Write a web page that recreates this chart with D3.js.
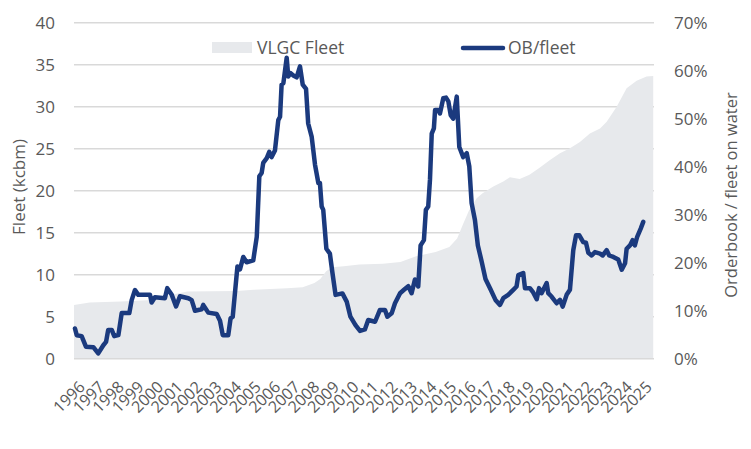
<!DOCTYPE html>
<html lang="en">
<head>
<meta charset="UTF-8">
<title>VLGC fleet and orderbook</title>
<script src="https://d3js.org/d3.v7.min.js"></script>
<style>
  body { margin: 0; background: #fff; }
  text { font-family: "Open Sans", "Noto Sans", sans-serif; fill: #595959; }
</style>
</head>
<body>
<script>
// VLGC fleet (kcbm, left axis), decimal years
const fleetTime = [1996.0, 1996.8, 1998.4, 2000.0, 2001.0, 2001.8, 2004.3, 2005.2, 2006.9, 2007.7,
  2008.3, 2008.6, 2008.9, 2009.2, 2009.8, 2010.6, 2011.8, 2012.7, 2013.5, 2014.5,
  2015.2, 2015.6, 2015.9, 2016.2, 2016.6, 2016.9, 2017.45, 2017.96, 2018.3, 2018.8,
  2019.3, 2019.8, 2020.35, 2020.86, 2021.37, 2021.88, 2022.39, 2022.91, 2023.25, 2023.76,
  2024.27, 2024.78, 2025.29, 2025.63];
const fleetValue = [6.4, 6.7, 6.8, 7.0, 7.6, 8.0, 8.05, 8.2, 8.4, 8.5,
  9.0, 9.5, 10.4, 10.9, 11.0, 11.2, 11.3, 11.5, 12.2, 12.7,
  13.3, 14.3, 16.0, 17.6, 19.1, 19.7, 20.5, 21.1, 21.6, 21.4,
  21.9, 22.7, 23.65, 24.45, 25.05, 25.8, 26.8, 27.4, 28.2, 30.0,
  32.2, 33.1, 33.6, 33.65];

// orderbook / fleet on water (%, right axis)
const obTime = [1996.05, 1996.14, 1996.39, 1996.61, 1996.99, 1997.24, 1997.50, 1997.64, 1997.75, 1997.93,
  1998.06, 1998.27, 1998.44, 1998.83, 1998.95, 1999.12, 1999.29, 1999.89, 1999.97, 2000.14,
  2000.65, 2000.77, 2001.00, 2001.22, 2001.42, 2001.85, 2002.02, 2002.19, 2002.53, 2002.61,
  2002.87, 2003.30, 2003.47, 2003.61, 2003.89, 2004.01, 2004.12, 2004.36, 2004.49, 2004.66,
  2004.83, 2005.17, 2005.35, 2005.48, 2005.60, 2005.68, 2005.86, 2005.99, 2006.11, 2006.28,
  2006.45, 2006.54, 2006.62, 2006.71, 2006.88, 2006.96, 2007.08, 2007.22, 2007.39, 2007.56,
  2007.70, 2007.87, 2007.98, 2008.16, 2008.33, 2008.50, 2008.58, 2008.67, 2008.75, 2008.91,
  2009.09, 2009.21, 2009.38, 2009.73, 2009.95, 2010.14, 2010.40, 2010.63, 2010.88, 2011.05,
  2011.40, 2011.65, 2011.91, 2012.03, 2012.25, 2012.42, 2012.68, 2012.88, 2013.10, 2013.27,
  2013.44, 2013.61, 2013.73, 2013.90, 2014.00, 2014.12, 2014.21, 2014.30, 2014.41, 2014.47,
  2014.63, 2014.72, 2014.89, 2015.03, 2015.15, 2015.27, 2015.40, 2015.58, 2015.71, 2015.91,
  2016.09, 2016.22, 2016.34, 2016.51, 2016.66, 2016.85, 2017.05, 2017.30, 2017.56, 2017.79,
  2017.96, 2018.21, 2018.47, 2018.64, 2018.73, 2018.98, 2019.07, 2019.32, 2019.49, 2019.67,
  2019.79, 2019.92, 2020.18, 2020.26, 2020.43, 2020.69, 2020.86, 2021.00, 2021.20, 2021.37,
  2021.54, 2021.68, 2021.85, 2022.05, 2022.19, 2022.31, 2022.48, 2022.65, 2022.91, 2023.04,
  2023.25, 2023.38, 2023.59, 2023.84, 2024.02, 2024.19, 2024.27, 2024.44, 2024.58, 2024.69,
  2024.81, 2024.99, 2025.12];
const obPct = [6.3, 4.9, 4.7, 2.5, 2.4, 1.1, 2.8, 3.5, 6.0, 6.0,
  4.7, 4.9, 9.5, 9.5, 12.2, 14.3, 13.3, 13.3, 11.7, 12.8,
  12.6, 14.7, 13.3, 10.9, 13.0, 12.6, 12.2, 10.0, 10.3, 11.2,
  9.6, 9.3, 7.9, 4.9, 4.9, 8.4, 8.75, 19.2, 18.6, 21.2,
  20.1, 20.5, 25.4, 38.0, 38.7, 40.8, 41.8, 43.1, 42.0, 43.4,
  49.7, 50.4, 57.1, 57.4, 62.7, 58.8, 59.5, 59.0, 58.6, 60.9,
  57.1, 56.2, 49.0, 46.2, 40.4, 36.6, 36.6, 31.7, 31.0, 22.9,
  21.9, 18.2, 13.3, 13.6, 11.9, 8.75, 7.0, 5.8, 6.1, 8.05,
  7.7, 10.15, 10.15, 8.75, 9.45, 11.55, 13.65, 14.35, 15.1, 13.65,
  16.5, 15.05, 23.6, 24.7, 31.0, 31.7, 37.3, 46.9, 48.0, 51.8,
  51.8, 51.1, 54.25, 54.4, 53.6, 50.75, 50.0, 54.6, 44.1, 42.0,
  42.8, 40.1, 32.4, 28.9, 23.6, 20.3, 16.6, 14.5, 12.25, 11.2,
  12.6, 13.3, 14.35, 15.05, 17.4, 17.85, 14.7, 14.7, 13.8, 12.4,
  14.7, 13.65, 15.75, 13.65, 12.95, 11.55, 12.25, 10.85, 13.3, 14.35,
  22.6, 25.7, 25.7, 24.3, 24.15, 22.05, 21.5, 22.2, 21.9, 21.5,
  22.6, 21.5, 21.2, 20.65, 18.55, 19.9, 22.9, 23.6, 24.7, 23.6,
  25.4, 27.1, 28.5];

const yearLabels = d3.range(1996, 2026);
const leftTicks = d3.range(0, 45, 5);
const rightTicks = d3.range(0, 0.75, 0.1);

const width = 751, height = 449;
const plot = { left: 74, right: 654, top: 22.7, bottom: 358.7 };

const svg = d3.select("body").append("svg")
  .attr("width", width)
  .attr("height", height);

const x = d3.scaleLinear().domain([1996, 2025.67]).range([plot.left, plot.right]);
const yL = d3.scaleLinear().domain([0, 40]).range([plot.bottom, plot.top]);
const yR = d3.scaleLinear().domain([0, 0.7]).range([plot.bottom, plot.top]);

// gridlines
svg.append("g")
  .selectAll("line")
  .data(leftTicks.filter(d => d > 0))
  .join("line")
  .attr("x1", plot.left).attr("x2", plot.right)
  .attr("y1", d => yL(d)).attr("y2", d => yL(d))
  .attr("stroke", "#d9d9d9")
  .attr("stroke-width", 1.5);

// fleet area
const fleet = fleetTime.map((t, i) => ({ t, v: fleetValue[i] }));
svg.append("path")
  .datum(fleet)
  .attr("fill", "#e7e9ec")
  .attr("d", d3.area().x(d => x(d.t)).y0(yL(0)).y1(d => yL(d.v)));

// baseline
svg.append("line")
  .attr("x1", plot.left).attr("x2", plot.right)
  .attr("y1", yL(0)).attr("y2", yL(0))
  .attr("stroke", "#d9d9d9")
  .attr("stroke-width", 1.5);

// orderbook / fleet line
const ob = obTime.map((t, i) => ({ t, v: obPct[i] / 100 }));
svg.append("path")
  .datum(ob)
  .attr("fill", "none")
  .attr("stroke", "#1b3a7e")
  .attr("stroke-width", 4.5)
  .attr("stroke-linejoin", "round")
  .attr("stroke-linecap", "round")
  .attr("d", d3.line().x(d => x(d.t)).y(d => yR(d.v)));

// left axis labels
svg.append("g")
  .selectAll("text")
  .data(leftTicks)
  .join("text")
  .attr("x", 55)
  .attr("y", d => yL(d))
  .attr("dy", "0.35em")
  .attr("text-anchor", "end")
  .style("font-size", "17px")
  .text(d => d);

// right axis labels
svg.append("g")
  .selectAll("text")
  .data(rightTicks)
  .join("text")
  .attr("x", 674)
  .attr("y", d => yR(d))
  .attr("dy", "0.35em")
  .style("font-size", "17px")
  .text(d => d3.format(".0%")(d));

// year labels
svg.append("g")
  .selectAll("text")
  .data(yearLabels)
  .join("text")
  .attr("transform", d => `translate(${x(d) + 8},${384}) rotate(-45)`)
  .attr("dy", "0.35em")
  .attr("text-anchor", "end")
  .style("font-size", "16px")
  .text(d => d);

// axis titles
svg.append("text")
  .attr("transform", "translate(19,187) rotate(-90)")
  .attr("text-anchor", "middle")
  .attr("dy", "0.35em")
  .style("font-size", "17px")
  .text("Fleet (kcbm)");

svg.append("text")
  .attr("transform", "translate(731,195) rotate(-90)")
  .attr("text-anchor", "middle")
  .attr("dy", "0.35em")
  .style("font-size", "16.5px")
  .text("Orderbook / fleet on water");

// legend
const legend = svg.append("g");
legend.append("rect")
  .attr("x", 212).attr("y", 42)
  .attr("width", 40).attr("height", 11)
  .attr("fill", "#e7e9ec");
legend.append("text")
  .attr("x", 257).attr("y", 48)
  .attr("dy", "0.35em")
  .style("font-size", "17.5px")
  .text("VLGC Fleet");
legend.append("line")
  .attr("x1", 463).attr("x2", 503)
  .attr("y1", 48).attr("y2", 48)
  .attr("stroke", "#1b3a7e")
  .attr("stroke-width", 4.5)
  .attr("stroke-linecap", "round");
legend.append("text")
  .attr("x", 508).attr("y", 48)
  .attr("dy", "0.35em")
  .style("font-size", "17.5px")
  .text("OB/fleet");
</script>
</body>
</html>
